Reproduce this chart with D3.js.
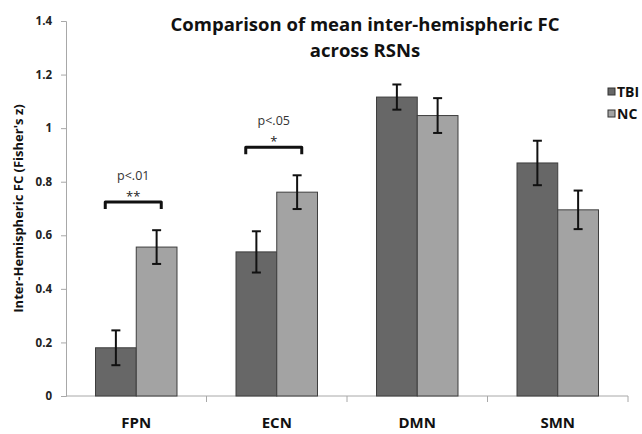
<!DOCTYPE html>
<html>
<head>
<meta charset="utf-8">
<script src="https://cdn.jsdelivr.net/npm/d3@7"></script>
<style>
  body { margin: 0; background: #fff; }
  svg { display: block; font-family: "Open Sans", Lato, sans-serif; }
</style>
</head>
<body>
<div id="chart-area"></div>
<script>
// values
const networks = ['FPN', 'ECN', 'DMN', 'SMN'];
const groups = ['TBI', 'NC'];
const tbiMean = [0.18, 0.538, 1.116, 0.87];
const tbiErr = [0.065, 0.077, 0.047, 0.083];
const ncMean = [0.556, 0.761, 1.047, 0.695];
const ncErr = [0.063, 0.063, 0.065, 0.072];
const yTicks = [0, 0.2, 0.4, 0.6, 0.8, 1, 1.2, 1.4];
const sigNetworks = ['FPN', 'ECN'];
const sigP = ['p<.01', 'p<.05'];
const sigStars = ['**', '*'];

const width = 642, height = 434;
const margin = { left: 66, right: 14, top: 21, bottom: 38 };

const colors = { TBI: '#676767', NC: '#a3a3a3' };

const svg = d3.select('#chart-area')
  .append('svg')
  .attr('width', width)
  .attr('height', height);

const x = d3.scaleBand()
  .domain(networks)
  .range([margin.left, width - margin.right]);

const xSub = d3.scaleBand()
  .domain(groups)
  .range([x.bandwidth() * 0.21, x.bandwidth() * 0.79]);

const y = d3.scaleLinear()
  .domain([0, 1.4])
  .range([height - margin.bottom, margin.top]);

const rows = [];
networks.forEach((n, i) => {
  rows.push({ net: n, group: 'TBI', mean: tbiMean[i], err: tbiErr[i] });
  rows.push({ net: n, group: 'NC', mean: ncMean[i], err: ncErr[i] });
});

// y axis
const yAxis = svg.append('g')
  .attr('transform', `translate(${margin.left},0)`)
  .call(d3.axisLeft(y).tickValues(yTicks).tickSize(5).tickPadding(9)
    .tickFormat(d3.format('~g')));
yAxis.select('.domain').attr('stroke', '#a8a8a8');
yAxis.selectAll('.tick line').attr('stroke', '#a8a8a8');
yAxis.selectAll('.tick text')
  .attr('font-size', 11.5)
  .attr('font-weight', 'bold')
  .attr('font-family', '"Open Sans", sans-serif')
  .attr('fill', '#222');

// x axis, ticks on band boundaries
const xg = svg.append('g')
  .attr('transform', `translate(0,${y(0)})`);
xg.append('line')
  .attr('x1', x.range()[0]).attr('x2', x.range()[1])
  .attr('stroke', '#a8a8a8');
xg.selectAll('.bnd')
  .data(networks.slice(1).concat('end'))
  .join('line')
  .attr('x1', d => d === 'end' ? x.range()[1] : x(d))
  .attr('x2', d => d === 'end' ? x.range()[1] : x(d))
  .attr('y1', 0).attr('y2', 6)
  .attr('stroke', '#a8a8a8');
xg.selectAll('text')
  .data(networks)
  .join('text')
  .attr('x', d => x(d) + x.bandwidth() / 2)
  .attr('y', 32)
  .attr('text-anchor', 'middle')
  .attr('font-size', 15)
  .attr('font-weight', 'bold')
  .attr('fill', '#111')
  .text(d => d);

// bars
svg.append('g')
  .selectAll('rect')
  .data(rows)
  .join('rect')
  .attr('x', d => x(d.net) + xSub(d.group))
  .attr('y', d => y(d.mean))
  .attr('width', xSub.bandwidth())
  .attr('height', d => y(0) - y(d.mean))
  .attr('fill', d => colors[d.group])
  .attr('stroke', '#3e3e3e')
  .attr('stroke-width', 1);

// error bars
const eb = svg.append('g')
  .attr('stroke', '#111')
  .attr('stroke-width', 2);
rows.forEach(d => {
  const cx = x(d.net) + xSub(d.group) + xSub.bandwidth() / 2;
  eb.append('line')
    .attr('x1', cx).attr('x2', cx)
    .attr('y1', y(d.mean + d.err)).attr('y2', y(d.mean - d.err));
  [d.mean + d.err, d.mean - d.err].forEach(v => {
    eb.append('line')
      .attr('x1', cx - 4.5).attr('x2', cx + 4.5)
      .attr('y1', y(v)).attr('y2', y(v));
  });
});

// significance brackets
sigNetworks.forEach((n, i) => {
  const k = networks.indexOf(n);
  const top = Math.max(tbiMean[k] + tbiErr[k], ncMean[k] + ncErr[k]);
  const by = y(top + 0.105);
  const cx = x(n) + x.bandwidth() / 2 - 3;
  const half = 28;
  svg.append('path')
    .attr('d', `M${cx - half},${by + 7}V${by}H${cx + half}V${by + 7}`)
    .attr('fill', 'none')
    .attr('stroke', '#111')
    .attr('stroke-width', 3)
    .attr('stroke-linejoin', 'round');
  svg.append('text')
    .attr('x', cx).attr('y', by - 1)
    .attr('text-anchor', 'middle')
    .attr('font-size', 13)
    .attr('fill', '#222')
    .text(sigStars[i]);
  svg.append('text')
    .attr('x', cx).attr('y', by - 22)
    .attr('text-anchor', 'middle')
    .attr('font-size', 12.5)
    .attr('fill', '#333')
    .text(sigP[i]);
});

// title
const title = svg.append('text')
  .attr('text-anchor', 'middle')
  .attr('font-size', 18.5)
  .attr('font-weight', 'bold')
  .attr('fill', '#111');
title.append('tspan').attr('x', 365).attr('y', 31)
  .text('Comparison of mean inter-hemispheric FC');
title.append('tspan').attr('x', 365).attr('y', 57)
  .text('across RSNs');

// y label
svg.append('text')
  .attr('transform', `translate(23,${(y(0) + y(1.4)) / 2}) rotate(-90)`)
  .attr('text-anchor', 'middle')
  .attr('font-size', 13)
  .attr('font-weight', 'bold')
  .attr('fill', '#111')
  .text("Inter-Hemispheric FC (Fisher's z)");

// legend (runs off the right edge, as in the original)
const lg = svg.append('g').attr('transform', 'translate(608,88)');
groups.forEach((gName, i) => {
  lg.append('rect')
    .attr('x', 0).attr('y', i * 22)
    .attr('width', 7).attr('height', 7)
    .attr('fill', colors[gName])
    .attr('stroke', '#333');
  lg.append('text')
    .attr('x', 9).attr('y', i * 22 + 9)
    .attr('font-size', 14)
    .attr('font-weight', 'bold')
    .attr('fill', '#111')
    .text(gName);
});
</script>
</body>
</html>
